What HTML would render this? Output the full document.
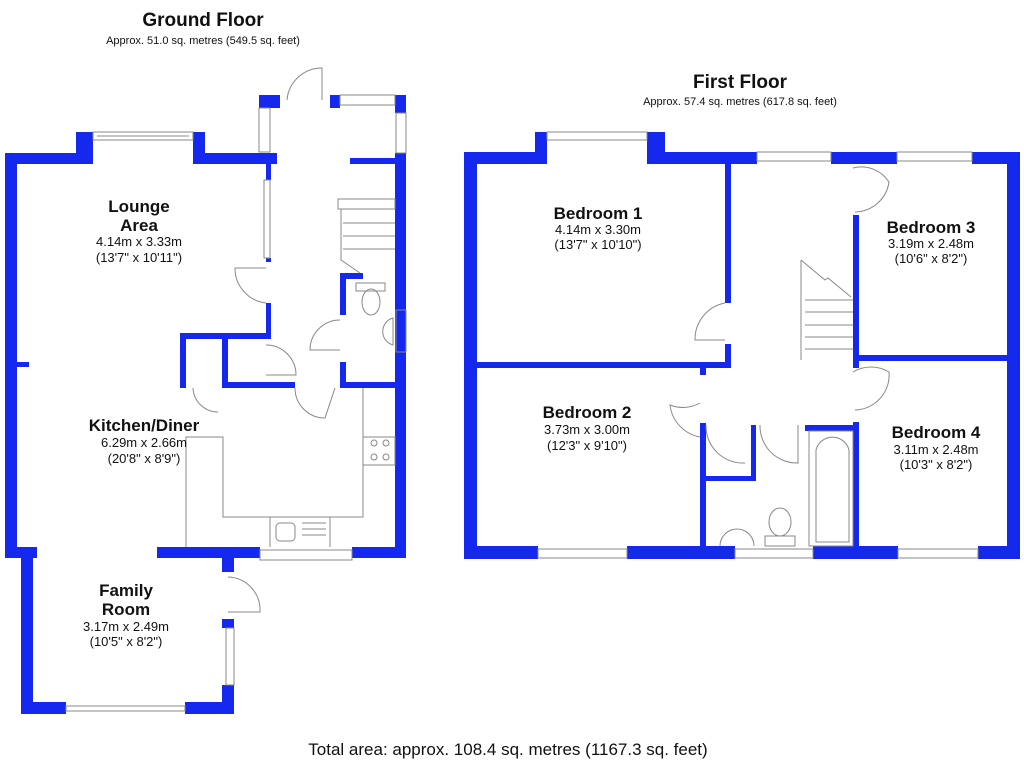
<!DOCTYPE html>
<html><head><meta charset="utf-8"><style>
html,body{margin:0;padding:0;background:#fff;width:1024px;height:768px;overflow:hidden}
svg{display:block}
text{font-family:"Liberation Sans",Arial,sans-serif;fill:#111;text-anchor:middle}
.t{font-weight:bold;font-size:17px}
.d{font-size:13px}
</style></head><body>
<svg width="1024" height="768" viewBox="0 0 1024 768">
<g fill="#1428ee">
<!-- GROUND FLOOR -->
<rect x="5" y="153" width="12" height="405"/>
<rect x="5" y="153" width="83" height="11"/>
<rect x="76" y="132" width="17" height="32"/>
<rect x="193" y="132" width="12" height="32"/>
<rect x="193" y="153" width="84" height="11"/>
<rect x="259" y="95" width="21" height="13"/>
<rect x="330" y="95" width="10" height="13"/>
<rect x="395" y="95" width="11" height="18"/>
<rect x="395" y="153" width="11" height="405"/>
<rect x="350" y="158" width="45" height="6"/>
<rect x="266" y="164" width="5" height="16"/>
<rect x="266" y="258" width="5" height="4"/>
<rect x="266" y="303" width="5" height="30"/>
<rect x="180" y="333" width="91" height="6"/>
<rect x="180" y="333" width="6" height="55"/>
<rect x="222" y="333" width="6" height="55"/>
<rect x="222" y="382" width="73" height="6"/>
<rect x="343" y="382" width="52" height="6"/>
<rect x="340" y="273" width="6" height="42"/>
<rect x="340" y="273" width="23" height="6"/>
<rect x="340" y="362" width="6" height="26"/>
<rect x="17" y="362" width="12" height="5"/>
<rect x="157" y="547" width="103" height="11"/>
<rect x="352" y="547" width="54" height="11"/>
<rect x="5" y="547" width="32" height="11"/>
<rect x="21" y="547" width="12" height="167"/>
<rect x="222" y="547" width="12" height="25"/>
<rect x="222" y="619" width="12" height="9"/>
<rect x="222" y="685" width="12" height="29"/>
<rect x="21" y="702" width="45" height="12"/>
<rect x="185" y="702" width="49" height="12"/>
<!-- FIRST FLOOR -->
<rect x="464" y="152" width="13" height="407"/>
<rect x="464" y="152" width="83" height="12"/>
<rect x="535" y="132" width="12" height="32"/>
<rect x="647" y="132" width="18" height="32"/>
<rect x="647" y="152" width="110" height="12"/>
<rect x="831" y="152" width="66" height="12"/>
<rect x="972" y="152" width="48" height="12"/>
<rect x="1007" y="152" width="13" height="407"/>
<rect x="464" y="546" width="74" height="13"/>
<rect x="627" y="546" width="108" height="13"/>
<rect x="813" y="546" width="85" height="13"/>
<rect x="978" y="546" width="42" height="13"/>
<rect x="725" y="164" width="6" height="139"/>
<rect x="725" y="344" width="6" height="24"/>
<rect x="477" y="362" width="254" height="6"/>
<rect x="700" y="368" width="6" height="7"/>
<rect x="700" y="423" width="6" height="123"/>
<rect x="706" y="476" width="50" height="5"/>
<rect x="751" y="425" width="5" height="56"/>
<rect x="805" y="425" width="50" height="6"/>
<rect x="853" y="422" width="6" height="124"/>
<rect x="853" y="215" width="6" height="153"/>
<rect x="859" y="355" width="148" height="6"/>
</g>
<g fill="none" stroke="#888" stroke-width="1">
<!-- ground windows -->
<rect x="93" y="132" width="100" height="8"/><line x1="97" y1="136" x2="189" y2="136"/>
<rect x="259" y="108" width="11" height="44"/><rect x="340" y="95" width="55" height="10"/>
<rect x="396" y="113" width="10" height="40"/><rect x="264" y="180" width="6" height="78"/>
<rect x="396" y="310" width="10" height="42"/><rect x="260" y="550" width="92" height="10"/>
<rect x="226" y="628" width="8" height="57"/><rect x="66" y="706" width="119" height="5"/>
<!-- ground doors -->
<path d="M287 100 A35 35 0 0 1 322 68 L322 100"/>
<path d="M266 303 A35 35 0 0 1 235 268 L266 268"/>
<path d="M266 345 A30 30 0 0 1 296 375 L266 375"/>
<path d="M295 388 A30 30 0 0 0 325 418 L335 388"/>
<path d="M340 320 A30 30 0 0 0 310 350 L340 350"/>
<path d="M193 388 A25 25 0 0 0 218 412"/>
<path d="M228 577 A33 33 0 0 1 260 612 L228 612"/>
<!-- stairs -->
<rect x="338" y="199" width="57" height="10"/>
<path d="M341 209 L341 260 L360 273"/>
<line x1="343" y1="223" x2="395" y2="223"/><line x1="343" y1="236" x2="395" y2="236"/>
<line x1="343" y1="249" x2="395" y2="249"/>
<ellipse cx="371" cy="302" rx="9" ry="13"/><rect x="356" y="283" width="29" height="8"/>
<path d="M393 345 A14 14 0 0 1 393 318 Z"/>
<!-- kitchen -->
<path d="M186 547 L186 437 L223 437 L223 517 L363 517 L363 388"/>
<rect x="363" y="437" width="32" height="28"/>
<circle cx="374" cy="443" r="3"/><circle cx="386" cy="443" r="3"/><circle cx="374" cy="457" r="3"/><circle cx="386" cy="457" r="3"/>
<line x1="270" y1="517" x2="270" y2="547"/><line x1="330" y1="517" x2="330" y2="547"/>
<rect x="276" y="523" width="19" height="18" rx="4"/>
<line x1="302" y1="523" x2="326" y2="523"/><line x1="302" y1="529" x2="326" y2="529"/><line x1="302" y1="535" x2="326" y2="535"/>
<!-- first windows -->
<rect x="547" y="132" width="100" height="8"/><rect x="757" y="152" width="74" height="9"/>
<rect x="897" y="152" width="75" height="9"/><rect x="538" y="549" width="89" height="9"/>
<rect x="735" y="549" width="78" height="9"/><rect x="898" y="549" width="80" height="9"/>
<!-- first doors -->
<path d="M725 303 A37 37 0 0 0 695 340 L725 340"/>
<path d="M853 168 A33 33 0 0 1 889 182 A35 35 0 0 1 855 212"/>
<path d="M700 403 A35 35 0 0 1 670 405 A37 37 0 0 0 700 437"/>
<path d="M706 425 A37 37 0 0 0 745 463"/>
<path d="M760 425 A37 37 0 0 0 798 463 L798 425"/>
<path d="M853 372 A35 35 0 0 1 889 372 A35 35 0 0 1 855 410"/>
<!-- stairs first -->
<path d="M801 260 L801 360 M801 260 L825 280 L828 278 L851 297"/>
<line x1="805" y1="300" x2="853" y2="300"/><line x1="805" y1="312" x2="853" y2="312"/>
<line x1="805" y1="325" x2="853" y2="325"/><line x1="805" y1="337" x2="853" y2="337"/><line x1="805" y1="349" x2="853" y2="349"/>
<!-- bath -->
<rect x="809" y="431" width="44" height="115"/>
<path d="M816 542 L816 450 A17 17 0 0 1 849 450 L849 542 Z"/>
<ellipse cx="780" cy="522" rx="11" ry="14"/><rect x="765" y="536" width="30" height="10"/>
<path d="M720 546 A17 17 0 0 1 754 546"/>
</g>
<text x="203" y="26" style="font-weight:bold;font-size:19px">Ground Floor</text>
<text x="203" y="44" style="font-size:11px">Approx. 51.0 sq. metres (549.5 sq. feet)</text>
<text x="740" y="88" style="font-weight:bold;font-size:19px">First Floor</text>
<text x="740" y="105" style="font-size:11px">Approx. 57.4 sq. metres (617.8 sq. feet)</text>
<text x="508" y="755" style="font-size:17px">Total area: approx. 108.4 sq. metres (1167.3 sq. feet)</text>
<text class="t" x="139" y="212">Lounge</text><text class="t" x="139" y="231">Area</text>
<text class="d" x="139" y="246">4.14m x 3.33m</text><text class="d" x="139" y="262">(13'7" x 10'11")</text>
<text class="t" x="144" y="431">Kitchen/Diner</text>
<text class="d" x="144" y="447">6.29m x 2.66m</text><text class="d" x="144" y="463">(20'8" x 8'9")</text>
<text class="t" x="126" y="596">Family</text><text class="t" x="126" y="615">Room</text>
<text class="d" x="126" y="631">3.17m x 2.49m</text><text class="d" x="126" y="646">(10'5" x 8'2")</text>
<text class="t" x="598" y="219">Bedroom 1</text>
<text class="d" x="598" y="234">4.14m x 3.30m</text><text class="d" x="598" y="249">(13'7" x 10'10")</text>
<text class="t" x="587" y="418">Bedroom 2</text>
<text class="d" x="587" y="434">3.73m x 3.00m</text><text class="d" x="587" y="450">(12'3" x 9'10")</text>
<text class="t" x="931" y="233">Bedroom 3</text>
<text class="d" x="931" y="248">3.19m x 2.48m</text><text class="d" x="931" y="263">(10'6" x 8'2")</text>
<text class="t" x="936" y="438">Bedroom 4</text>
<text class="d" x="936" y="454">3.11m x 2.48m</text><text class="d" x="936" y="469">(10'3" x 8'2")</text>
</svg>
</body></html>
